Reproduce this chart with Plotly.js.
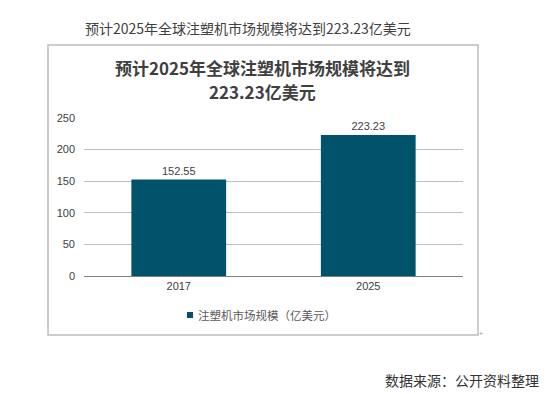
<!DOCTYPE html>
<html><head><meta charset="utf-8">
<script src="https://cdn.plot.ly/plotly-3.0.1.min.js"></script>
<style>html,body{margin:0;padding:0;background:#fff}</style>
</head><body><div id="chart" style="width:554px;height:394px"></div>
<script>
var categories = ['2017', '2025'];
var values = [152.55, 223.23];
var valueLabels = ['152.55', '223.23'];
var seriesName = '注塑机市场规模（亿美元）';
var tickVals = [0, 50, 100, 150, 200, 250];
var outerTitle = '预计2025年全球注塑机市场规模将达到223.23亿美元';
var chartTitleLine1 = '<b>预计2025年全球注塑机市场规模将达到</b>';
var chartTitleLine2 = '<b>223.23亿美元</b>';
var sourceText = '数据来源：公开资料整理';

var L = 84, R = 91, T = 118, B = 118, W = 554, H = 394;
var pw = W - L - R, ph = H - T - B;
function px(x){ return (x - L) / pw; }
function py(y){ return (H - B - y) / ph; }

var font = '"Noto Sans CJK SC", "Liberation Sans", Arial, sans-serif';
var barColor = '#01526b';

Plotly.newPlot('chart', [{
  type: 'bar', x: categories, y: values, name: seriesName,
  marker: {color: barColor},
  text: valueLabels, textposition: 'outside', cliponaxis: false,
  textfont: {family: '"Liberation Sans", Arial, sans-serif', size: 11, color: '#404040'},
  hoverinfo: 'none'
}], {
  width: W, height: H,
  margin: {l: L, r: R, t: T, b: B, pad: 0},
  paper_bgcolor: '#fff', plot_bgcolor: '#fff',
  bargap: 0.5,
  showlegend: false,
  xaxis: {type: 'category', showgrid: false, showline: true, linecolor: '#7f7f7f', linewidth: 1,
    ticks: '', tickfont: {family: '"Liberation Sans", Arial, sans-serif', size: 11, color: '#404040'},
    zeroline: false, fixedrange: true},
  yaxis: {range: [0, 250], tickvals: tickVals, showgrid: true, gridcolor: '#bfbfbf', gridwidth: 1,
    zeroline: false, showline: false, ticks: '', ticklabelstandoff: 8,
    tickfont: {family: '"Liberation Sans", Arial, sans-serif', size: 11, color: '#404040'},
    fixedrange: true},
  shapes: [
    {type: 'rect', xref: 'paper', yref: 'paper', x0: px(48), x1: px(478), y0: py(335), y1: py(45),
     line: {color: '#bdbdbd', width: 1.5}, fillcolor: 'rgba(0,0,0,0)', layer: 'below'},
    {type: 'rect', xref: 'paper', yref: 'paper', x0: px(187), x1: px(193), y0: py(318), y1: py(312),
     line: {width: 0}, fillcolor: barColor}
  ],
  annotations: [
    {xref: 'paper', yref: 'paper', x: px(248), y: py(28), xanchor: 'center', yanchor: 'middle',
     text: outerTitle, showarrow: false, font: {family: font, size: 14, color: '#404040'}},
    {xref: 'paper', yref: 'paper', x: px(262), y: py(67), xanchor: 'center', yanchor: 'middle',
     text: chartTitleLine1, showarrow: false,
     font: {family: font, size: 17, color: '#404040'}},
    {xref: 'paper', yref: 'paper', x: px(262), y: py(91), xanchor: 'center', yanchor: 'middle',
     text: chartTitleLine2, showarrow: false,
     font: {family: font, size: 17, color: '#404040'}},
    {xref: 'paper', yref: 'paper', x: px(196), y: py(315), xanchor: 'left', yanchor: 'middle',
     text: seriesName, showarrow: false, font: {family: font, size: 11.5, color: '#595959'}},
    {xref: 'paper', yref: 'paper', x: px(541), y: py(380), xanchor: 'right', yanchor: 'middle',
     text: sourceText, showarrow: false, font: {family: font, size: 14, color: '#333'}},
    {xref: 'paper', yref: 'paper', x: px(481), y: py(333), xanchor: 'center', yanchor: 'middle',
     text: '+', showarrow: false, font: {family: font, size: 7, color: '#999'}}
  ]
}, {displayModeBar: false, staticPlot: true});
</script></body></html>
